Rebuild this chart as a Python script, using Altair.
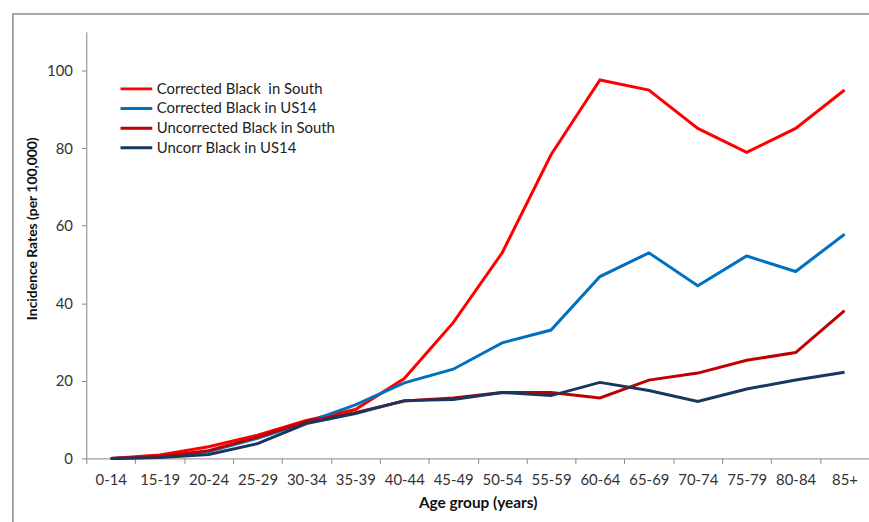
import altair as alt
import pandas as pd

ages = ["0-14", "15-19", "20-24", "25-29", "30-34", "35-39", "40-44", "45-49",
        "50-54", "55-59", "60-64", "65-69", "70-74", "75-79", "80-84", "85+"]

corr_south = [0, 0.9, 3.0, 6.0, 9.8, 12.6, 20.6, 35.0, 53.0, 78.3, 97.6, 95.0, 85.1, 78.9, 85.1, 95.0]
corr_us14 = [0, 0.3, 1.8, 5.2, 9.3, 13.8, 19.5, 23.0, 29.8, 33.1, 46.9, 53.0, 44.5, 52.2, 48.2, 57.8]
uncorr_south = [0, 0.5, 2.0, 5.5, 9.5, 11.8, 14.8, 15.6, 17.0, 17.0, 15.6, 20.2, 22.0, 25.3, 27.3, 38.1]
uncorr_us14 = [0, 0.2, 1.0, 3.8, 9.0, 11.6, 14.9, 15.2, 17.0, 16.2, 19.6, 17.5, 14.7, 17.9, 20.2, 22.2]

series_names = ["Corrected Black\u00a0 in South", "Corrected Black in US14",
                "Uncorrected Black in South", "Uncorr Black in US14"]
series_colors = ["#FF0000", "#0070C0", "#C00000", "#17375E"]
series_values = [corr_south, corr_us14, uncorr_south, uncorr_us14]

rows = []
for i, (name, vals) in enumerate(zip(series_names, series_values)):
    for a, v in zip(ages, vals):
        rows.append({"age": a, "rate": v, "series": name, "order": i})
df = pd.DataFrame(rows)

FONT = "Lato"
AX = "#868686"

lines = alt.Chart(df).mark_line(strokeWidth=3).encode(
    x=alt.X("age:N", sort=ages,
            scale=alt.Scale(type="band", paddingInner=0, paddingOuter=0),
            bandPosition=0.5,
            axis=alt.Axis(title="Age group (years)", labelAngle=0, tickBand="extent",
                          tickSize=5, labelPadding=9, labelFontSize=15,
                          titleFontSize=15.5, titleFontWeight="bold",
                          titleY=44, titleBaseline="middle")),
    y=alt.Y("rate:Q", scale=alt.Scale(domain=[0, 110], nice=False),
            axis=alt.Axis(title="Incidence Rates (per 100,000)", values=[0, 20, 40, 60, 80, 100],
                          tickSize=5, labelPadding=9, labelFontSize=15, grid=False,
                          titleFontSize=14, titleFontWeight="bold",
                          titleX=-54, titleY=198, titleBaseline="middle")),
    color=alt.Color("series:N", sort=series_names,
                    scale=alt.Scale(domain=series_names, range=series_colors),
                    legend=alt.Legend(title=None, orient="none", legendX=41, legendY=48,
                                      symbolType="M-2,0H2", symbolSize=256,
                                      symbolStrokeWidth=3, symbolFillColor="transparent",
                                      labelFontSize=15,
                                      rowPadding=1.8, labelOffset=11, padding=0,
                                      labelLimit=400)),
    order=alt.Order("order:Q"),
    detail="series:N",
)

frame = alt.Chart(pd.DataFrame({"a": [0]})).mark_rect(
    filled=False, stroke="#8c8c8c", strokeWidth=1.5
).encode(x=alt.value(-74), y=alt.value(-18), x2=alt.value(950), y2=alt.value(700))

chart = alt.layer(frame, lines).properties(
    width=789, height=430,
    autosize=alt.AutoSizeParams(type="none"),
    padding={"left": 87, "top": 30, "right": 0, "bottom": 62},
    background="white",
).configure_view(stroke=None).configure_axis(
    domainColor=AX, tickColor=AX, labelColor="#333333", titleColor="#111111",
    labelFont=FONT, titleFont=FONT, grid=False
).configure_legend(labelFont=FONT, labelColor="#222222")

chart.save("out.html", embed_options={"renderer": "svg", "actions": False})
